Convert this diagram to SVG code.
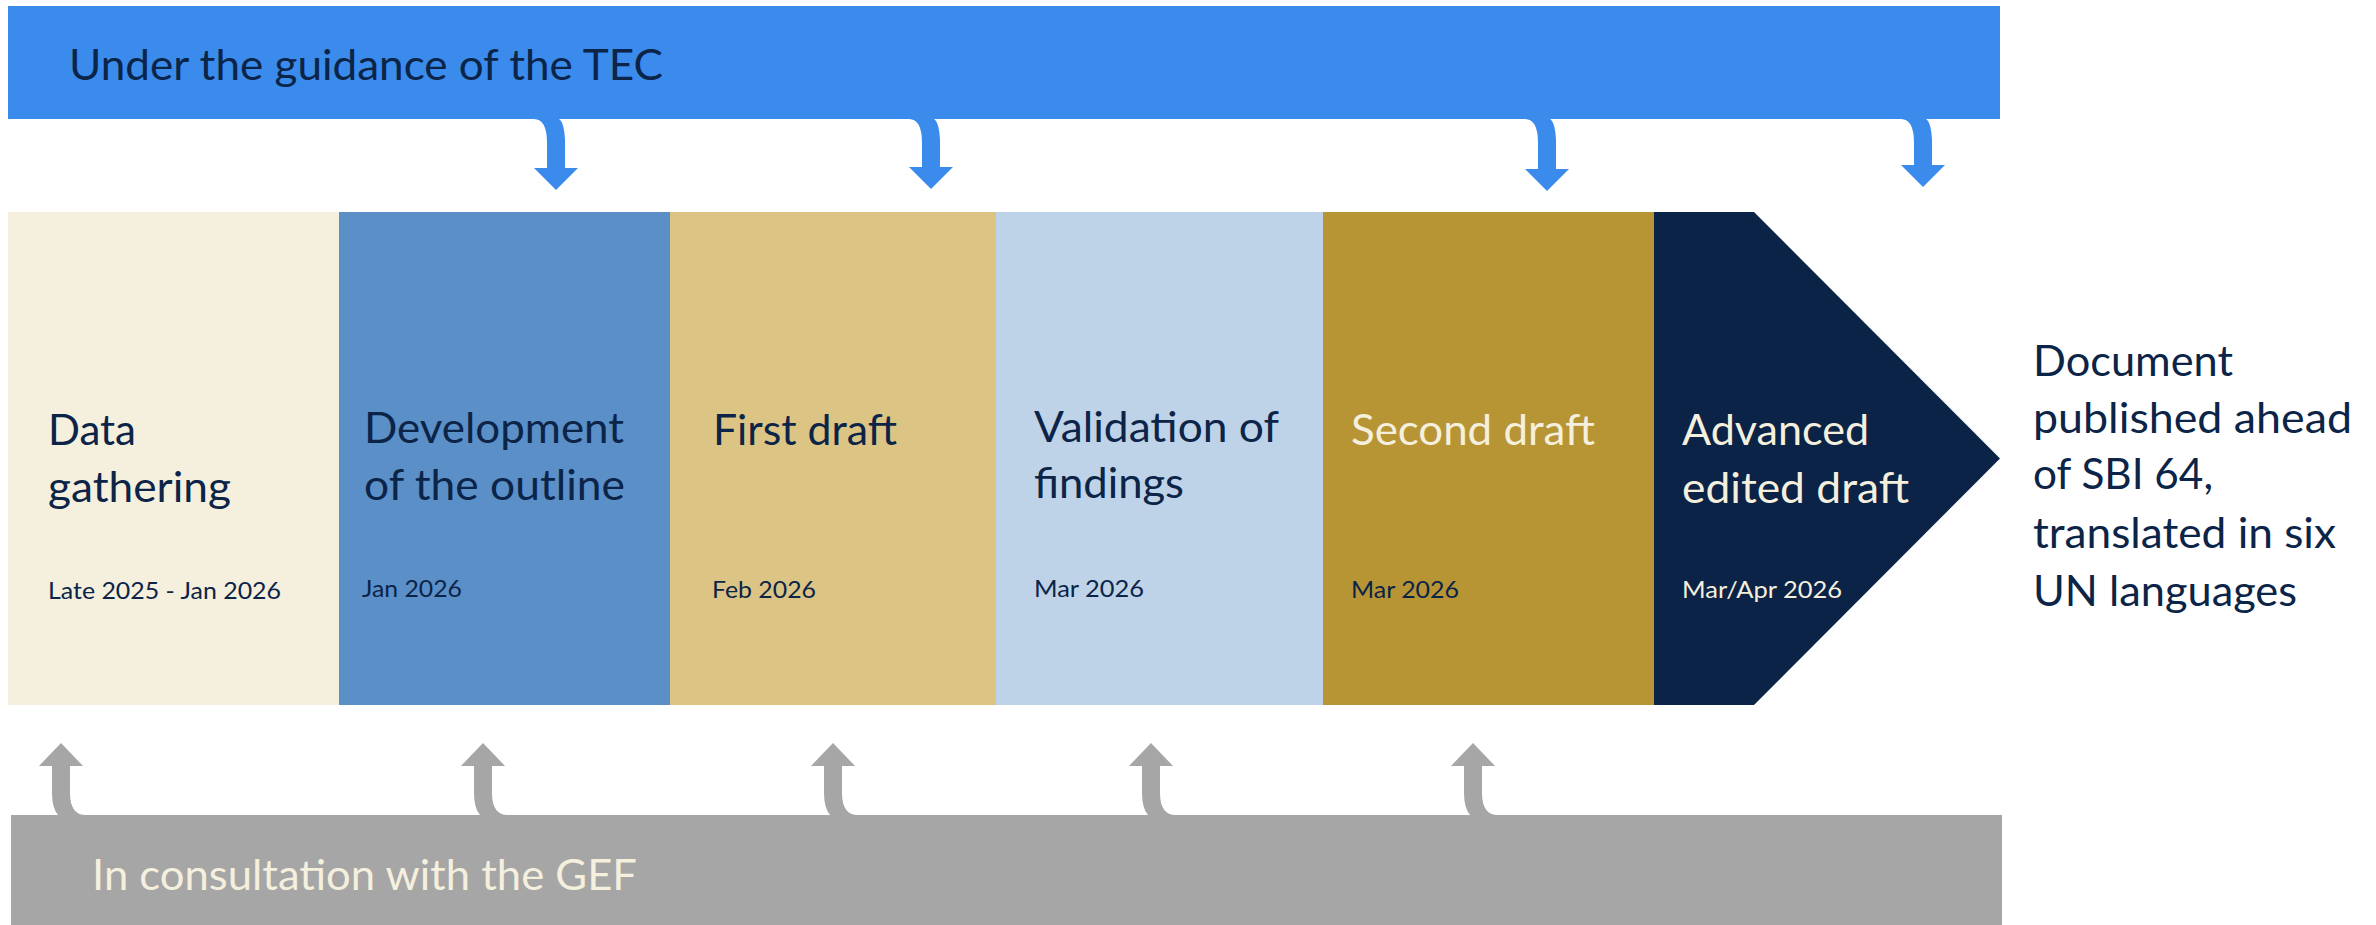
<svg xmlns="http://www.w3.org/2000/svg" width="2376" height="925" viewBox="0 0 2376 925">
<style>
text{font-family:Lato,"Liberation Sans",sans-serif}
.t{font-size:42px}
.d{font-size:23px}
.dk{fill:#0B2447}
.cr{fill:#F5EFDE}
.ta{fill:#3A8BEC}
.ba{fill:#A6A6A6}
</style>
<rect width="2376" height="925" fill="#FFFFFF"/>
<g id="connectors">
<path class="ta" d="M534,119 Q547,119 547,143 L547,168 L534,168 L556,190 L578,168 L565,168 L565,140 Q564,122 559,119 Z"/>
<path class="ta" d="M909,119 Q922,119 922,143 L922,167 L909,167 L931,189 L953,167 L940,167 L940,140 Q939,122 934,119 Z"/>
<path class="ta" d="M1525,119 Q1538,119 1538,143 L1538,169 L1525,169 L1547,191 L1569,169 L1556,169 L1556,140 Q1555,122 1550,119 Z"/>
<path class="ta" d="M1901,119 Q1914,119 1914,143 L1914,165 L1901,165 L1923,187 L1945,165 L1932,165 L1932,140 Q1931,122 1926,119 Z"/>
<path class="ba" d="M61,743 L83,766 L70,766 L70,793 Q70,815 86,815 L58,815 Q52,808 52,793 L52,766 L39,766 Z"/>
<path class="ba" d="M483,743 L505,766 L492,766 L492,793 Q492,815 508,815 L480,815 Q474,808 474,793 L474,766 L461,766 Z"/>
<path class="ba" d="M833,743 L855,766 L842,766 L842,793 Q842,815 858,815 L830,815 Q824,808 824,793 L824,766 L811,766 Z"/>
<path class="ba" d="M1151,743 L1173,766 L1160,766 L1160,793 Q1160,815 1176,815 L1148,815 Q1142,808 1142,793 L1142,766 L1129,766 Z"/>
<path class="ba" d="M1473,743 L1495,766 L1482,766 L1482,793 Q1482,815 1498,815 L1470,815 Q1464,808 1464,793 L1464,766 L1451,766 Z"/>
</g>
<g id="tec">
<rect class="ta" x="8" y="6" width="1992" height="113"/>
<text class="t dk" x="69" y="80" textLength="594" lengthAdjust="spacingAndGlyphs">Under the guidance of the TEC</text>
</g>
<g id="gef">
<rect class="ba" x="11" y="815" width="1991" height="110"/>
<text class="t cr" x="92" y="890" textLength="545" lengthAdjust="spacingAndGlyphs">In consultation with the GEF</text>
</g>
<g id="stage1">
<rect x="8" y="212" width="331" height="493" fill="#F5EFDE"/>
<text class="t dk" x="48" y="445" textLength="88" lengthAdjust="spacingAndGlyphs">Data</text>
<text class="t dk" x="48" y="502" textLength="183" lengthAdjust="spacingAndGlyphs">gathering</text>
<text class="d dk" x="48" y="599" textLength="233" lengthAdjust="spacingAndGlyphs">Late 2025 - Jan 2026</text>
</g>
<g id="stage2">
<rect x="339" y="212" width="331" height="493" fill="#5B8FC8"/>
<text class="t dk" x="364" y="443" textLength="260" lengthAdjust="spacingAndGlyphs">Development</text>
<text class="t dk" x="364" y="500" textLength="261" lengthAdjust="spacingAndGlyphs">of the outline</text>
<text class="d dk" x="362" y="597" textLength="100" lengthAdjust="spacingAndGlyphs">Jan 2026</text>
</g>
<g id="stage3">
<rect x="670" y="212" width="326" height="493" fill="#DCC484"/>
<text class="t dk" x="713" y="445" textLength="184" lengthAdjust="spacingAndGlyphs">First draft</text>
<text class="d dk" x="712" y="598" textLength="104" lengthAdjust="spacingAndGlyphs">Feb 2026</text>
</g>
<g id="stage4">
<rect x="996" y="212" width="327" height="493" fill="#BED2E8"/>
<text class="t dk" x="1034" y="442" textLength="245" lengthAdjust="spacingAndGlyphs">Validation of</text>
<text class="t dk" x="1034" y="498" textLength="150" lengthAdjust="spacingAndGlyphs">findings</text>
<text class="d dk" x="1034" y="597" textLength="110" lengthAdjust="spacingAndGlyphs">Mar 2026</text>
</g>
<g id="stage5">
<rect x="1323" y="212" width="331" height="493" fill="#B79535"/>
<text class="t cr" x="1351" y="445" textLength="244" lengthAdjust="spacingAndGlyphs">Second draft</text>
<text class="d dk" x="1351" y="598" textLength="108" lengthAdjust="spacingAndGlyphs">Mar 2026</text>
</g>
<g id="stage6">
<path d="M1654,212 L1754,212 L2000,458.5 L1754,705 L1654,705 Z" fill="#0A2346"/>
<text class="t cr" x="1682" y="445" textLength="187" lengthAdjust="spacingAndGlyphs">Advanced</text>
<text class="t cr" x="1682" y="503" textLength="227" lengthAdjust="spacingAndGlyphs">edited draft</text>
<text class="d cr" x="1682" y="598" textLength="160" lengthAdjust="spacingAndGlyphs">Mar/Apr 2026</text>
</g>
<g id="outcome">
<text class="t dk" x="2033" y="376" textLength="200" lengthAdjust="spacingAndGlyphs">Document</text>
<text class="t dk" x="2033" y="433" textLength="319" lengthAdjust="spacingAndGlyphs">published ahead</text>
<text class="t dk" x="2033" y="489" textLength="180" lengthAdjust="spacingAndGlyphs">of SBI 64,</text>
<text class="t dk" x="2033" y="548" textLength="303" lengthAdjust="spacingAndGlyphs">translated in six</text>
<text class="t dk" x="2033" y="606" textLength="264" lengthAdjust="spacingAndGlyphs">UN languages</text>
</g>
</svg>
